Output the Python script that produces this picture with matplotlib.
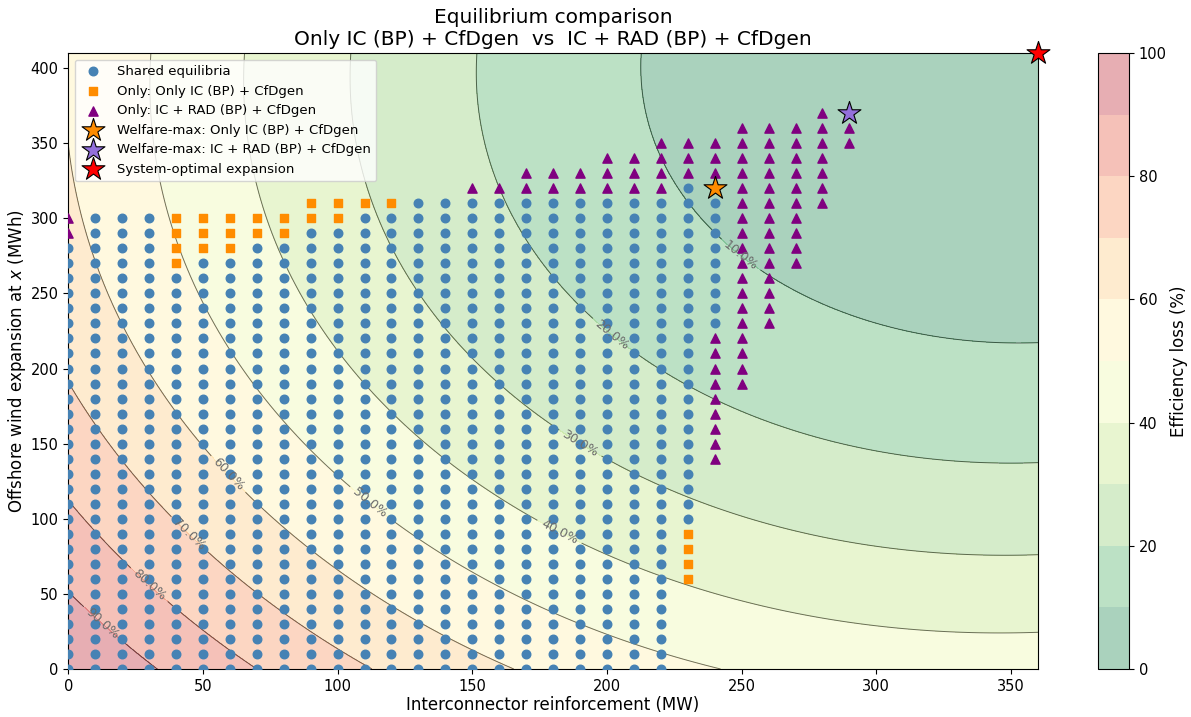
import numpy as np
import matplotlib
matplotlib.use("Agg")
import matplotlib.pyplot as plt

# Grid columns of equilibria: (x, lowest y, highest y), step 10
shared_x = [0, 10, 20, 30, 40, 50, 60, 70, 80, 90, 100, 110, 120,
            130, 140, 150, 160, 170, 180, 190, 200, 210, 220, 230, 240]
shared_lo = [0] * 23 + [100, 230]
shared_hi = [280, 300, 300, 300, 260, 270, 270, 280, 280, 290, 290, 300, 300,
             310, 310, 310, 310, 310, 310, 310, 310, 310, 310, 320, 310]

only_ic_x = [40, 50, 60, 70, 80, 90, 100, 110, 120, 230]
only_ic_lo = [270, 280, 280, 290, 290, 300, 300, 310, 310, 60]
only_ic_hi = [300, 300, 300, 300, 300, 310, 310, 310, 310, 90]

only_rad_x = [0, 150, 160, 170, 180, 190, 200, 210, 220, 230, 240, 240,
              250, 260, 270, 280, 290]
only_rad_lo = [290, 320, 320, 320, 320, 320, 320, 320, 320, 330, 140, 330,
               190, 230, 270, 310, 350]
only_rad_hi = [300, 320, 320, 330, 330, 330, 340, 340, 350, 350, 220, 350,
               360, 360, 360, 370, 360]

best_ic = (240, 320)
best_rad = (290, 370)
system_opt = (360, 410)

# Efficiency-loss surface: quadratic welfare gap around the system optimum,
# coefficients, scaled so that (0, 0) is 100 %
K_X, K_Y, K_XY = 4.608e-4, 2.689e-4, -3.37e-5

label_pos = [(249, 274), (202, 223), (190, 150), (182, 90), (112, 111),
             (59, 129), (44, 88), (30, 56), (13, 31)]


def expand(xs, lo, hi):
    px, py = [], []
    for x, a, b in zip(xs, lo, hi):
        for y in range(a, b + 1, 10):
            px.append(x)
            py.append(y)
    return px, py


def gap(x, y):
    dx = x - system_opt[0]
    dy = y - system_opt[1]
    return K_X * dx ** 2 + K_Y * dy ** 2 + K_XY * dx * dy


sx, sy = expand(shared_x, shared_lo, shared_hi)
ox, oy = expand(only_ic_x, only_ic_lo, only_ic_hi)
rx, ry = expand(only_rad_x, only_rad_lo, only_rad_hi)

X, Y = np.meshgrid(np.linspace(0, 360, 361), np.linspace(0, 410, 411))
loss = np.clip(100 * gap(X, Y) / gap(0, 0), 0, 100)

fig = plt.figure(figsize=(11.91, 7.17), dpi=100)
ax = fig.add_axes([0.0573, 0.067, 0.8142, 0.859])
cax = fig.add_axes([0.922, 0.067, 0.026, 0.859])

levels = np.arange(0, 101, 10)
cf = ax.contourf(X, Y, loss, levels=levels, cmap="RdYlGn_r", alpha=0.35)
cs = ax.contour(X, Y, loss, levels=levels[1:-1], colors="k", linewidths=0.7, alpha=0.55)
labels = ax.clabel(cs, fmt="%.1f%%", fontsize=9, manual=label_pos)
for t in labels:
    t.set_color("0.42")
    t.set_alpha(1)

ax.scatter(sx, sy, s=38, color="steelblue", label="Shared equilibria", zorder=3)
ax.scatter(ox, oy, s=40, marker="s", color="darkorange",
           label="Only: Only IC (BP) + CfDgen", zorder=3)
ax.scatter(rx, ry, s=44, marker="^", color="purple",
           label="Only: IC + RAD (BP) + CfDgen", zorder=3)
ax.scatter(*best_ic, s=300, marker="*", color="darkorange", edgecolor="k",
           linewidth=0.8, label="Welfare-max: Only IC (BP) + CfDgen", zorder=5)
ax.scatter(*best_rad, s=300, marker="*", color="mediumpurple", edgecolor="k",
           linewidth=0.8, label="Welfare-max: IC + RAD (BP) + CfDgen", zorder=5)
ax.scatter(*system_opt, s=300, marker="*", color="red", edgecolor="k",
           linewidth=0.8, label="System-optimal expansion", zorder=6, clip_on=False)

ax.set_xlim(0, 360)
ax.set_ylim(0, 410)
ax.set_xlabel("Interconnector reinforcement (MW)", fontsize=12, labelpad=2)
ax.set_ylabel("Offshore wind expansion at $x$ (MWh)", fontsize=12, labelpad=2)
ax.set_title("Equilibrium comparison\nOnly IC (BP) + CfDgen  vs  IC + RAD (BP) + CfDgen",
             fontsize=14.5)
ax.tick_params(labelsize=10.5)
ax.legend(loc="upper left", fontsize=9.5)

cbar = fig.colorbar(cf, cax=cax)
cbar.set_ticks([0, 20, 40, 60, 80, 100])
cbar.ax.tick_params(labelsize=10.5)
cbar.set_label("Efficiency loss (%)", fontsize=12, labelpad=2)

fig.savefig("out.png", dpi=100)
